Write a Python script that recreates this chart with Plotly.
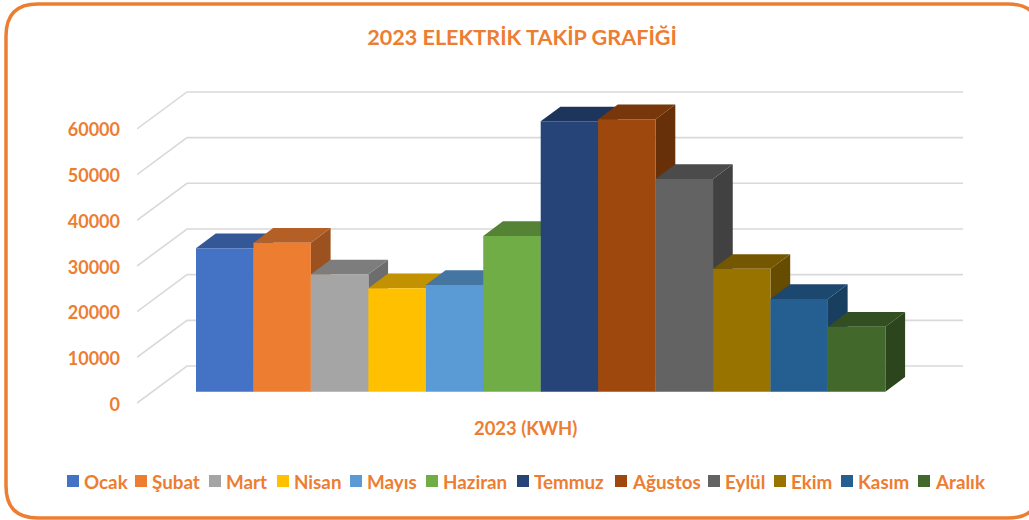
import plotly.graph_objects as go

months = ["Ocak", "Şubat", "Mart", "Nisan", "Mayıs", "Haziran", "Temmuz", "Ağustos", "Eylül", "Ekim", "Kasım", "Aralık"]
kwh = [31400, 32600, 25700, 22640, 23350, 34100, 59200, 59650, 46600, 26900, 20300, 14230]
front_colors = ["#4472C4", "#ED7D31", "#A5A5A5", "#FFC000", "#5B9BD5", "#70AD47",
                "#264478", "#9E480E", "#636363", "#997300", "#255E91", "#43682B"]
y_ticks = [0, 10000, 20000, 30000, 40000, 50000, 60000]
title_text = "2023 ELEKTRİK TAKİP GRAFİĞİ"
series_title = "2023 (KWH)"

W, H = 1029, 520
ORANGE = "#ED7D31"
FONT = "Lato"
PX_L, PX_R, PX_T, PX_B = 137, 963, 70, 412   # plot area in figure pixels
PX_CAT = 57.45        # pixels per month
PX_VAL = 45.67 / 10000  # pixels per kWh
ZERO_LABEL, ZERO_BAR = 404.2, 391.7
WALL_NUDGE = 1.2 / PX_VAL  # wall lines sit a little above the tick label centres
BAR0 = 196.0
LEGEND_PX = [67, 135, 209, 277, 350, 426, 517, 615, 708, 774, 841, 918]  # swatch left edges
LEGEND_Y = 481
SWATCH = 12

x_rng = [(PX_L - BAR0) / PX_CAT, (PX_R - BAR0) / PX_CAT]
def y_rng(zero):
    return [(zero - PX_B) / PX_VAL, (zero - PX_T) / PX_VAL]

wall_dx, wall_dy = 50 / PX_CAT, 37 / PX_VAL
bar_dx, bar_dy = 19.7 / PX_CAT, 14.7 / PX_VAL

def shade(hex_color, k):
    r, g, b = (int(hex_color[i:i + 2], 16) for i in (1, 3, 5))
    return f"rgb({r * k:.0f},{g * k:.0f},{b * k:.0f})"

fig = go.Figure()

# Walls: gridlines on the main axis (tick labels come from it)
for t in y_ticks:
    fig.add_trace(go.Scatter(
        x=[x_rng[0], x_rng[0] + wall_dx, x_rng[1]],
        y=[t + WALL_NUDGE, t + WALL_NUDGE + wall_dy, t + WALL_NUDGE + wall_dy],
        mode="lines", line=dict(color="#D9D9D9", width=1.6),
        showlegend=False, hoverinfo="skip", xaxis="x", yaxis="y", cliponaxis=False))

# Bars, left to right, so that each front hides its left neighbour's side
for i, (m, v, c) in enumerate(zip(months, kwh, front_colors)):
    l, r = i, i + 1
    fig.add_trace(go.Scatter(
        x=[r, r + bar_dx, r + bar_dx, r, r], y=[0, bar_dy, v + bar_dy, v, 0],
        mode="lines", fill="toself", fillcolor=shade(c, 0.66), line=dict(width=0),
        showlegend=False, hoverinfo="skip", xaxis="x", yaxis="y2", zorder=3 * i))
    fig.add_trace(go.Scatter(
        x=[l, r, r + bar_dx, l + bar_dx, l], y=[v, v, v + bar_dy, v + bar_dy, v],
        mode="lines", fill="toself", fillcolor=shade(c, 0.76), line=dict(width=0),
        showlegend=False, hoverinfo="skip", xaxis="x", yaxis="y2", zorder=3 * i + 1))
    fig.add_trace(go.Bar(
        x=[i + 0.5], y=[v], width=1, name=m, marker=dict(color=c, line=dict(width=0)),
        showlegend=False, xaxis="x", yaxis="y2", zorder=3 * i + 2))

    # Legend entry (the reference's swatch-to-text gap is tighter than plotly's own legend allows)
    lx = LEGEND_PX[i]
    fig.add_shape(type="rect", xref="paper", yref="paper", line=dict(width=0), fillcolor=c,
                  x0=lx / W, x1=(lx + SWATCH) / W,
                  y0=1 - (LEGEND_Y + SWATCH / 2) / H, y1=1 - (LEGEND_Y - SWATCH / 2) / H)
    fig.add_annotation(text=f"<b>{m}</b>", x=(lx + SWATCH + 5) / W, xanchor="left",
                       y=1 - LEGEND_Y / H, yanchor="middle", xref="paper", yref="paper",
                       showarrow=False, borderpad=0, borderwidth=0,
                       font=dict(family=FONT, size=18.8, color=ORANGE))

fig.add_annotation(text=f"<b>{series_title}</b>", x=525 / W, y=1 - 428 / H, yanchor="middle",
                   xref="paper", yref="paper", showarrow=False,
                   font=dict(family=FONT, size=18.4, color=ORANGE))

# Rounded chart frame
fx0, fy0, fx1, fy1, rad = 6 / W, 1 - 4 / H, 1040 / W, 1 - 518 / H, 32
rx, ry = rad / W, rad / H
fig.add_shape(type="path", xref="paper", yref="paper", line=dict(color=ORANGE, width=3.5),
              path=(f"M {fx0 + rx} {fy0} L {fx1 - rx} {fy0} Q {fx1} {fy0} {fx1} {fy0 - ry} "
                    f"L {fx1} {fy1 + ry} Q {fx1} {fy1} {fx1 - rx} {fy1} "
                    f"L {fx0 + rx} {fy1} Q {fx0} {fy1} {fx0} {fy1 + ry} "
                    f"L {fx0} {fy0 - ry} Q {fx0} {fy0} {fx0 + rx} {fy0} Z"))

fig.update_layout(
    width=W, height=H, autosize=False, margin=dict(l=0, r=0, t=0, b=0, pad=0, autoexpand=False),
    paper_bgcolor="white", plot_bgcolor="white", barmode="overlay", showlegend=False,
    font=dict(family=FONT, color=ORANGE, size=18),
    title=dict(text=f"<b>{title_text}</b>", x=522 / W, xanchor="center", y=1 - 37 / H, yanchor="middle",
               font=dict(family=FONT, size=21.6, color=ORANGE)),
    xaxis=dict(domain=[PX_L / W, PX_R / W], range=x_rng, visible=False, fixedrange=True, automargin=False),
    yaxis=dict(domain=[1 - PX_B / H, 1 - PX_T / H], range=y_rng(ZERO_LABEL), tickvals=y_ticks, tickformat="d",
               showgrid=False, zeroline=False, showline=False, ticks="", ticklabelstandoff=16, automargin=False,
               tickfont=dict(family=FONT, size=18, color=ORANGE, weight="bold"), fixedrange=True),
    yaxis2=dict(domain=[1 - PX_B / H, 1 - PX_T / H], range=y_rng(ZERO_BAR), overlaying="y", visible=False,
                fixedrange=True, automargin=False),
)

fig.write_html("out.html", config=dict(displayModeBar=False),
               post_script=("document.documentElement.style.overflow='hidden';"
                            "document.body.style.margin='0';document.body.style.overflow='hidden';"
                            "window.scrollTo(0,0);"))
